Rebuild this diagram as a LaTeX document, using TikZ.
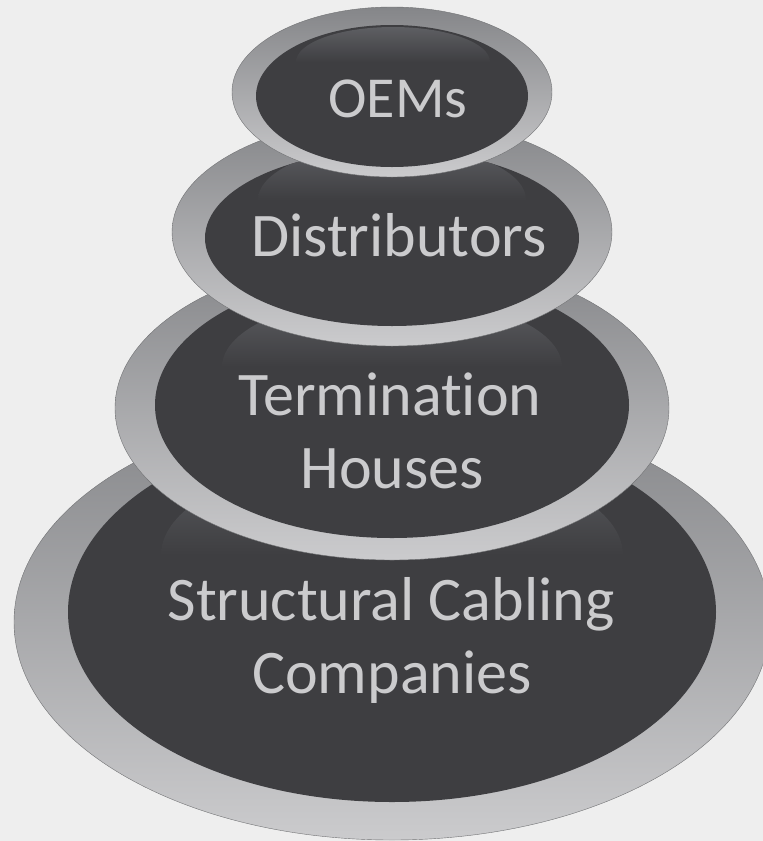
\documentclass[tikz,border=0pt]{standalone}
\usepackage{fontspec}
\setmainfont{Carlito}[Ligatures={NoCommon,NoContextual}]
\definecolor{bgc}{HTML}{EEEEEE}
\definecolor{ringtop}{HTML}{858689}
\definecolor{ringbot}{HTML}{CBCBCD}
\definecolor{innerc}{HTML}{3E3E41}
\definecolor{hlc}{HTML}{5E5F63}
\definecolor{txtc}{HTML}{CBCBCD}
\tikzset{
  ring/.style={top color=ringtop, bottom color=ringbot, draw=ringtop!85!black, line width=0.4pt},
  core/.style={fill=innerc},
  gloss/.style={top color=hlc, bottom color=innerc, middle color=innerc},
  lbl/.style={text=txtc, anchor=base, inner sep=0pt},
  big/.style={font=\fontsize{62}{62}\selectfont}
}
\begin{document}
\begin{tikzpicture}[x=1pt,y=-1pt]
\fill[bgc] (0,0) rectangle (763,841);
\useasboundingbox (0,0) rectangle (763,841);
% Structural Cabling Companies
\path[ring] (392,622) ellipse [x radius=378pt, y radius=218pt];
\path[core] (392,612) ellipse [x radius=324pt, y radius=190pt];
\begin{scope}
\clip (392,612) ellipse [x radius=324pt, y radius=190pt];
\path[gloss] (392,555) ellipse [x radius=231pt, y radius=100pt];
\end{scope}
\node[lbl, big] (scc1) at (391,620) {Structural Cabling};
\node[lbl, big] (scc2) at (392,693) {Companies};
% Termination Houses
\path[ring] (392,408) ellipse [x radius=277pt, y radius=152pt];
\path[core] (392,405) ellipse [x radius=237pt, y radius=133pt];
\begin{scope}
\clip (392,405) ellipse [x radius=237pt, y radius=133pt];
\path[gloss] (392,367) ellipse [x radius=170pt, y radius=71pt];
\end{scope}
\node[lbl, big] (th1) at (390,415) {Termination};
\node[lbl, big] (th2) at (392,488) {Houses};
% Distributors
\path[ring] (392,232) ellipse [x radius=220pt, y radius=114pt];
\path[core] (392,238) ellipse [x radius=187pt, y radius=88pt];
\begin{scope}
\clip (392,238) ellipse [x radius=187pt, y radius=88pt];
\path[gloss] (392,200) ellipse [x radius=134pt, y radius=55pt];
\end{scope}
\node[lbl, big] (dist) at (399,256) {Distributors};
% OEMs
\path[ring] (392,92) ellipse [x radius=160pt, y radius=85pt];
\path[core] (392,96) ellipse [x radius=136pt, y radius=71pt];
\begin{scope}
\clip (392,96) ellipse [x radius=136pt, y radius=71pt];
\path[gloss] (393,62) ellipse [x radius=97pt, y radius=35pt];
\end{scope}
\node[lbl, font=\fontsize{58}{58}\selectfont] (oems) at (398,117) {OEMs};
\end{tikzpicture}
\end{document}
